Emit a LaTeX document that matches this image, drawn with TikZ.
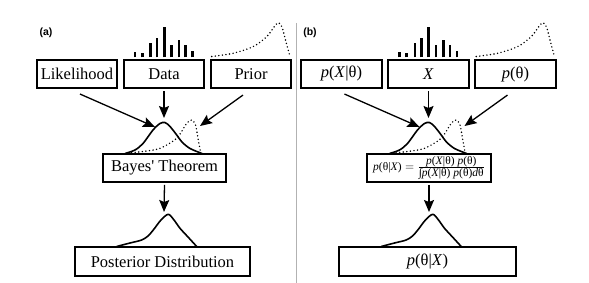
\documentclass[tikz,border=0pt]{standalone}
\usepackage{fontspec}
\setmainfont{Liberation Serif}
\newfontfamily\labfont{Liberation Sans}
\usepackage{tikz}
\usetikzlibrary{arrows.meta,calc,positioning}

\tikzset{
  box/.style={draw,line width=1.6pt,inner sep=0pt,minimum height=28.5pt,
    font=\fontsize{16.5}{18}\selectfont},
  arr/.style={-{Stealth[length=12pt,width=10pt,inset=2pt]},line width=1.3pt},
  curve/.style={line width=1.6pt,line join=round},
  dots/.style={line width=1.6pt,line cap=round,dash pattern=on 0pt off 3.6pt},
  panlab/.style={font=\labfont\bfseries\fontsize{10.5}{11}\selectfont}
}

\begin{document}
\begin{tikzpicture}[x=1pt,y=-1pt]
  \useasboundingbox (0,0) rectangle (589,283);
  % trait de séparation
  \draw[gray!60,line width=1pt] (296.5,23) -- (296.5,283);
  \node[panlab] (laba) at (46,33) {(a)};
  \node[panlab] (labb) at (310,33) {(b)};
  % histogrammes et courbes des deux panneaux
  \foreach \dx in {0,264.5}{
    \begin{scope}[shift={(\dx,0)}]
      \foreach \bx/\by in {135/51.7,142.2/53.3,150.4/42.7,157/37.7,164.3/27.5,
          171.5/45,179/40,185.5/45,192.5/51.5}
        \draw[line width=2.8pt] (\bx,57.5) -- (\bx,\by);
      \draw[dots] plot[smooth] coordinates {(211.7,56.5) (233,53.3) (253,46.7)
          (266.7,36.7) (274,27) (278.3,22.7) (282,27) (286,42) (290,56.5)};
      \draw[curve] plot[smooth] coordinates {(125,153.5) (135,150) (143,143.5)
          (153,130) (160,123.5) (165,122.5) (170,126.5) (176,134) (182,142)
          (190,148.5) (202,153.5)};
      \draw[dots] plot[smooth] coordinates {(128,153) (143,151.5) (160,148.3)
          (176.7,138.3) (186.7,123.3) (191.7,120) (195.5,125) (198.3,140)
          (200.7,153)};
      \draw[curve] plot[smooth] coordinates {(116.7,246.5) (130,243) (141.7,240)
          (148,236) (153.3,230) (161,220) (168.3,214.3) (174,220) (180,228.3)
          (188,237) (196.7,246.5)};
    \end{scope}
  }
  % panneau (a)
  \node[box,minimum width=80pt] (lik) at (77,74) {Likelihood};
  \node[box,minimum width=80pt] (dat) at (164,74) {Data};
  \node[box,minimum width=80pt] (pri) at (251,74) {Prior};
  \node[box,minimum width=123pt,minimum height=28pt] (bay) at (164.5,168) {Bayes\textquotesingle\ Theorem};
  \node[box,minimum width=175pt,minimum height=29pt] (post) at (162.5,261.5) {Posterior Distribution};
  \coordinate (likend) at (155,127);
  \coordinate (datend) at (164,118);
  \coordinate (priend) at (200,126);
  \coordinate (bayend) at (164,212);
  \draw[arr] ([xshift=3pt,yshift=-5pt]lik.south) -- (likend);
  \draw[arr] ([yshift=-2pt]dat.south) -- (datend);
  \draw[arr] ([xshift=-8pt,yshift=-6pt]pri.south) -- (priend);
  \draw[arr] ([yshift=-2pt]bay.south) -- (bayend);
  % panneau (b)
  \node[box,minimum width=81pt] (plik) at (341.5,74) {\textit{p}(\textit{X}|θ)};
  \node[box,minimum width=81pt] (pdat) at (428.5,74) {\textit{X}};
  \node[box,minimum width=81pt] (ppri) at (515.5,74) {\textit{p}(θ)};
  \node[box,minimum width=124pt,minimum height=28pt,font=\fontsize{11.5}{11.5}\selectfont] (pbay) at (429,168)
    {$\mbox{\textit{p}(θ|\textit{X})}=\frac{\mbox{\textit{p}(\textit{X}|θ) \textit{p}(θ)}}{\mbox{∫\textit{p}(\textit{X}|θ) \textit{p}(θ)\textit{d}θ}}$};
  \node[box,minimum width=177pt,minimum height=29pt] (ppost) at (427.5,261.5) {\textit{p}(θ|\textit{X})};
  \coordinate (plikend) at (419.5,127);
  \coordinate (pdatend) at (428.5,118);
  \coordinate (ppriend) at (464.5,126);
  \coordinate (pbayend) at (429,212);
  \draw[arr] ([xshift=3pt,yshift=-5pt]plik.south) -- (plikend);
  \draw[arr] ([yshift=-2pt]pdat.south) -- (pdatend);
  \draw[arr] ([xshift=-8pt,yshift=-6pt]ppri.south) -- (ppriend);
  \draw[arr] ([yshift=-2pt]pbay.south) -- (pbayend);
\end{tikzpicture}
\end{document}
